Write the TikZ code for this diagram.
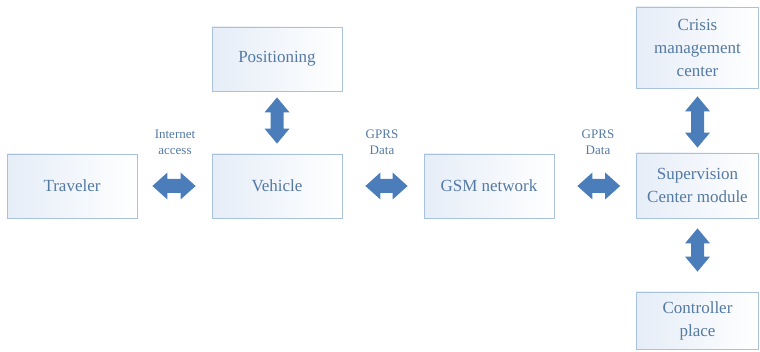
\documentclass[tikz,border=0pt]{standalone}
\usepackage{fontspec}
\setmainfont{Liberation Serif}
\usetikzlibrary{calc}
\definecolor{boxline}{rgb}{0.66,0.76,0.87}
\definecolor{boxfill}{rgb}{0.90,0.93,0.97}
\definecolor{textblue}{rgb}{0.33,0.48,0.64}
\definecolor{arrowblue}{rgb}{0.29,0.49,0.73}

% block double arrows between two boxes
\newcommand{\harrow}[4]{%
\fill [arrowblue] let \p1=($(#1.east)+(#3,0)$), \p2=($(#2.west)+(-#4,0)$) in
  (\x1,\y1) -- (\x1+15pt,\y1+13.5pt) -- (\x1+15pt,\y1+7pt) -- (\x2-15pt,\y1+7pt)
  -- (\x2-15pt,\y1+13.5pt) -- (\x2,\y1) -- (\x2-15pt,\y1-13.5pt) -- (\x2-15pt,\y1-7pt)
  -- (\x1+15pt,\y1-7pt) -- (\x1+15pt,\y1-13.5pt) -- cycle;}
\newcommand{\varrow}[4]{%
\fill [arrowblue] let \p1=($(#1.south)+(0,#3)$), \p2=($(#2.north)+(0,-#4)$) in
  (\x1,\y1) -- (\x1+12.5pt,\y1-15pt) -- (\x1+6.5pt,\y1-15pt) -- (\x1+6.5pt,\y2+15pt)
  -- (\x1+12.5pt,\y2+15pt) -- (\x1,\y2) -- (\x1-12.5pt,\y2+15pt) -- (\x1-6.5pt,\y2+15pt)
  -- (\x1-6.5pt,\y1-15pt) -- (\x1-12.5pt,\y1-15pt) -- cycle;}

\begin{document}
\begin{tikzpicture}[x=1pt,y=-1pt,
  block/.style={draw=boxline,line width=0.8pt,left color=boxfill,right color=white,
    text=textblue,font=\fontsize{17}{23}\selectfont,align=center,inner sep=0pt},
  linklabel/.style={text=textblue,font=\fontsize{13}{16}\selectfont,align=center,inner sep=0pt}]
\useasboundingbox (0,0) rectangle (760,352);
\node [block,minimum width=130,minimum height=64] (trav) at (72,186) {Traveler};
\node [block,minimum width=130,minimum height=64] (veh) at (277,186) {Vehicle};
\node [block,minimum width=130,minimum height=64] (pos) at (277,59) {Positioning};
\node [block,minimum width=130,minimum height=64] (gsm) at (489,186) {GSM network};
\node [block,minimum width=122,minimum height=81] (crisis) at (697.5,47.5) {Crisis\\management\\center};
\node [block,minimum width=122,minimum height=65] (sup) at (697.5,185.5) {Supervision\\Center module};
\node [block,minimum width=122,minimum height=57] (ctrl) at (697.5,320.5) {Controller\\place};
\node [linklabel] (inet) at (175,142) {Internet\\access};
\node [linklabel] (gprsa) at (382,142) {GPRS\\Data};
\node [linklabel] (gprsb) at (598,142) {GPRS\\Data};
\harrow{trav}{veh}{15}{16}
\harrow{veh}{gsm}{23}{16}
\harrow{gsm}{sup}{23}{16}
\varrow{pos}{veh}{6}{10}
\varrow{crisis}{sup}{8}{5}
\varrow{sup}{ctrl}{10}{20}
\end{tikzpicture}
\end{document}
